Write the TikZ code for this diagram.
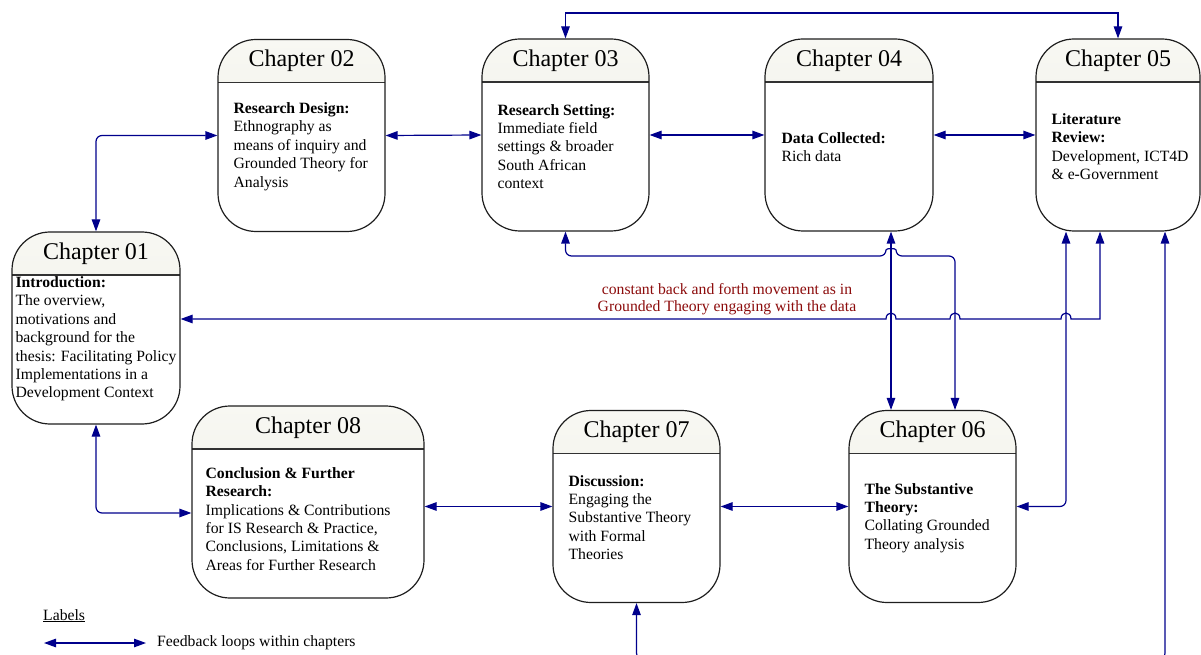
\documentclass[tikz,border=0pt]{standalone}
\usepackage{fontspec}
\setmainfont{Liberation Serif}
\usetikzlibrary{arrows.meta,calc}
\definecolor{fbnavy}{RGB}{0,0,140}
\definecolor{boxline}{RGB}{30,30,30}
\definecolor{hdline}{RGB}{50,50,50}
\definecolor{hdtop}{RGB}{248,248,243}
\definecolor{hdbot}{RGB}{236,236,226}
\definecolor{lblred}{RGB}{140,12,12}
\begin{document}
\begin{tikzpicture}[x=1pt,y=1pt,
  chbox/.style={draw=boxline, line width=1.2pt, rounded corners=38pt, fill=white,
    minimum width=#1, minimum height=192pt, inner sep=0pt,
    path picture={
      \fill[sharp corners, top color=hdtop, bottom color=hdbot]
        (path picture bounding box.north west) rectangle ([yshift=-43pt]path picture bounding box.north east);
      \draw[sharp corners, line width=1.6pt, draw=hdline]
        ([yshift=-43pt]path picture bounding box.north west) -- ([yshift=-43pt]path picture bounding box.north east);
    }},
  hd/.style={font=\fontsize{24}{28}\selectfont, inner sep=0pt},
  body/.style={font=\fontsize{15.7}{18.4}\selectfont, align=left, inner sep=0pt, anchor=west},
  fb/.style={draw=fbnavy, line width=1.2pt,
    {Triangle[length=12pt,width=8.5pt]}-{Triangle[length=12pt,width=8.5pt]}},
  lbl/.style={font=\fontsize{15.7}{17}\selectfont, text=lblred, align=center, inner sep=0pt}
]
\useasboundingbox (0,0) rectangle (1201,654);

% boxes
\node[chbox=168pt] (c1) at (96,326) {};
\node[chbox=167pt] (c2) at (301.5,518.5) {};
\node[chbox=167pt] (c3) at (565.5,519) {};
\node[chbox=168pt] (c4) at (849,519) {};
\node[chbox=164pt] (c5) at (1118,519) {};
\node[chbox=232pt] (c8) at (308,152) {};
\node[chbox=167pt] (c7) at (636.5,147.5) {};
\node[chbox=167pt] (c6) at (932.5,147.5) {};

% headings
\node[hd] (h1) at ([yshift=-22pt]c1.north) {Chapter 01};
\node[hd] (h2) at ([yshift=-22pt]c2.north) {Chapter 02};
\node[hd] (h3) at ([yshift=-22pt]c3.north) {Chapter 03};
\node[hd] (h4) at ([yshift=-22pt]c4.north) {Chapter 04};
\node[hd] (h5) at ([yshift=-22pt]c5.north) {Chapter 05};
\node[hd] (h6) at ([yshift=-22pt]c6.north) {Chapter 06};
\node[hd] (h7) at ([yshift=-22pt]c7.north) {Chapter 07};
\node[hd] (h8) at ([yshift=-22pt]c8.north) {Chapter 08};

% body texts
\node[body] (t1) at ([xshift=4pt,yshift=-11pt]c1.west) {\textbf{Introduction:}\\The overview,\\motivations and\\background for the\\thesis: Facilitating Policy\\Implementations in a\\Development Context};
\node[body] (t2) at ([xshift=16pt,yshift=-11pt]c2.west) {\textbf{Research Design:}\\Ethnography as\\means of inquiry and\\Grounded Theory for\\Analysis};
\node[body] (t3) at ([xshift=16pt,yshift=-11.5pt]c3.west) {\textbf{Research Setting:}\\Immediate field\\settings \& broader\\South African\\context};
\node[body] (t4) at ([xshift=17pt,yshift=-12pt]c4.west) {\textbf{Data Collected:}\\Rich data};
\node[body] (t5) at ([xshift=16pt,yshift=-11.5pt]c5.west) {\textbf{Literature}\\\textbf{Review:}\\Development, ICT4D\\\& e-Government};
\node[body] (t8) at ([xshift=14pt,yshift=-17pt]c8.west) {\textbf{Conclusion \& Further}\\\textbf{Research:}\\Implications \& Contributions\\for IS Research \& Practice,\\Conclusions, Limitations \&\\Areas for Further Research};
\node[body] (t7) at ([xshift=16pt,yshift=-11pt]c7.west) {\textbf{Discussion:}\\Engaging the\\Substantive Theory\\with Formal\\Theories};
\node[body] (t6) at ([xshift=16pt,yshift=-11.5pt]c6.west) {\textbf{The Substantive}\\\textbf{Theory:}\\Collating Grounded\\Theory analysis};

% helper coordinates
\coordinate (v1) at ([xshift=-52pt]c5.south);
\coordinate (v2) at ([xshift=22.5pt]c6.north);
\coordinate (v3) at ([xshift=42pt]c4.south);
\coordinate (p5a) at ([xshift=-18pt]c5.south);
\coordinate (p5b) at ([xshift=47pt]c5.south);
\coordinate (L) at ([yshift=9pt]c1.east);
\coordinate (M) at (0,398);
\coordinate (T) at (0,641);
\coordinate (B) at (0,-5);

% connectors
\draw[fb, rounded corners=6pt] (c1.north) |- (c2.west);
\draw[fb] (c2.east) -- (c3.west);
\draw[fb] (c3.east) -- (c4.west);
\draw[fb] (c4.east) -- (c5.west);
\draw[fb] (c3.north) -- (c3.north |- T) -- (c5.north |- T) -- (c5.north);
\draw[fb, rounded corners=6pt] (c1.south) |- ([yshift=-11pt]c8.west);
\draw[fb] (c8.east |- c7.west) -- (c7.west);
\draw[fb] (c7.east) -- (c6.west);
\draw[fb, rounded corners=6pt] (v1) |- (c6.east);
\draw[fb] (v3) -- (v3 |- c6.north);
\draw[fb, rounded corners=6pt] (c3.south) |- ($(v3|-M)+(-5,0)$)
  .. controls +(0,8) and +(0,8) .. ($(v3|-M)+(5,0)$) -| (v2);
\draw[fb] (p5a) |- ($(v1|-L)+(5,0)$)
  .. controls +(0,8) and +(0,8) .. ($(v1|-L)+(-5,0)$)
  -- ($(v2|-L)+(5,0)$)
  .. controls +(0,8) and +(0,8) .. ($(v2|-L)+(-5,0)$)
  -- ($(v3|-L)+(5,0)$)
  .. controls +(0,8) and +(0,8) .. ($(v3|-L)+(-5,0)$)
  -- (L);
\begin{scope}
\clip (0,0) rectangle (1201,654);
\draw[fb, rounded corners=6pt] (p5b) -- (p5b |- B) -- (c7.south |- B) -- (c7.south);
\end{scope}

% label on the long loop
\node[lbl] (gt) at (727,355) {constant back and forth movement as in\\Grounded Theory engaging with the data};

% legend
\node[anchor=base west, font=\fontsize{15.7}{18}\selectfont, inner sep=0pt] (lab) at (43,34) {\underline{Labels}};
\coordinate (la) at (44,11);
\coordinate (lb) at (146,11);
\draw[fb] (la) -- (lb);
\node[anchor=west, font=\fontsize{15.7}{18}\selectfont, inner sep=0pt] (legtxt) at (157,11) {Feedback loops within chapters};
\end{tikzpicture}
\end{document}
